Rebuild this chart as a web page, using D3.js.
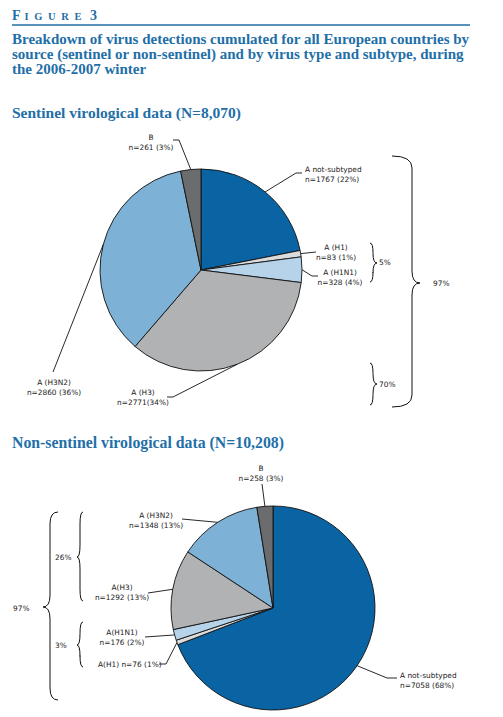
<!DOCTYPE html>
<html>
<head>
<meta charset="utf-8">
<script src="https://cdn.jsdelivr.net/npm/d3@7"></script>
<style>
  html, body { margin: 0; padding: 0; background: #fff; }
  svg { display: block; }
  .lbl { font-family: "DejaVu Sans", sans-serif; font-size: 7.4px; fill: #222; }
  .ttl { font-family: "Liberation Serif", serif; font-weight: bold; fill: #1f6fa8; }
</style>
</head>
<body>
<svg id="chart" width="503" height="717"></svg>
<script>
// ---------- DATA ----------
const titleLines = [
  "Breakdown of virus detections cumulated for all European countries by",
  "source (sentinel or non-sentinel) and by virus type and subtype, during",
  "the 2006-2007 winter"
];
const sentinelTitle = "Sentinel virological data (N=8,070)";
const nonSentinelTitle = "Non-sentinel virological data (N=10,208)";

const sentinelCategories = ["A not-subtyped", "A (H1)", "A (H1N1)", "A (H3)", "A (H3N2)", "B"];
const sentinelValues     = [1767, 83, 328, 2771, 2860, 261];
const sentinelPercents   = [22, 1, 4, 34, 36, 3];

const nonSentinelCategories = ["A not-subtyped", "A(H1)", "A(H1N1)", "A(H3)", "A (H3N2)", "B"];
const nonSentinelValues     = [7058, 76, 176, 1292, 1348, 258];
const nonSentinelPercents   = [68, 1, 2, 13, 13, 3];

const sentinelGroups    = ["5%", "70%", "97%"];
const nonSentinelGroups = ["26%", "3%", "97%"];

// ---------- STYLE ----------
const sliceColors = ["#0a64a4", "#d9dbdc", "#b6d3e9", "#b1b2b4", "#7eb1d6", "#6b6c6e"];

const svg = d3.select("#chart");

// Header
const hdr = svg.append("text").attr("class", "ttl").attr("x", 12).attr("y", 20);
hdr.append("tspan").attr("font-size", 14).text("F");
hdr.append("tspan").attr("font-size", 10.5).attr("dx", 4).attr("letter-spacing", 5.6).text("IGURE");
hdr.append("tspan").attr("font-size", 14).attr("x", 90).text("3");
svg.append("line").attr("x1", 12).attr("x2", 470).attr("y1", 25).attr("y2", 25)
  .attr("stroke", "#1f6fa8").attr("stroke-width", 1.4);

svg.append("g").selectAll("text").data(titleLines).join("text")
  .attr("class", "ttl").attr("font-size", 15)
  .attr("x", 12).attr("y", (d, i) => 44 + i * 15)
  .text(d => d);

svg.append("text").attr("class", "ttl").attr("font-size", 15.5)
  .attr("x", 12).attr("y", 118).text(sentinelTitle);
svg.append("text").attr("class", "ttl").attr("font-size", 15.8)
  .attr("x", 12).attr("y", 448).text(nonSentinelTitle);

// ---------- PIE DRAWING ----------
function drawPie(cfg) {
  const data = cfg.categories.map((c, i) => ({
    cat: c, value: cfg.values[i], pct: cfg.percents[i], color: sliceColors[i]
  }));
  const pie = d3.pie().sort(null).value(d => d.value);
  const arcs = pie(data);
  const arc = d3.arc().innerRadius(0).outerRadius(cfg.r);
  const g = svg.append("g").attr("transform", `translate(${cfg.cx},${cfg.cy})`);
  g.selectAll("path").data(arcs).join("path")
    .attr("d", arc)
    .attr("fill", d => d.data.color)
    .attr("stroke", "#111").attr("stroke-width", 0.9).attr("stroke-linejoin", "round");

  // labels + leaders
  arcs.forEach((a, i) => {
    const L = cfg.labels[i];
    const mid = (a.startAngle + a.endAngle) / 2;
    const px = cfg.cx + cfg.r * Math.sin(mid);
    const py = cfg.cy - cfg.r * Math.cos(mid);
    const pts = L.leader.concat([[px, py]]);
    svg.append("path")
      .attr("d", d3.line()(pts))
      .attr("fill", "none").attr("stroke", "#111").attr("stroke-width", 0.9);
    const lines = L.single
      ? [`${a.data.cat} n=${a.data.value} (${a.data.pct}%)`]
      : [a.data.cat, `n=${a.data.value}${L.tight ? "" : " "}(${a.data.pct}%)`];
    svg.append("g").selectAll("text").data(lines).join("text")
      .attr("class", "lbl")
      .attr("x", L.x).attr("y", (d, j) => L.y + j * 10)
      .attr("text-anchor", L.anchor)
      .text(d => d);
  });
}

function brace(x0, x1, x2, y0, y1, ym, label, lx, ly, anchor) {
  const r = Math.min(12, (y1 - y0) / 4);
  const d = `M${x0},${y0} Q${x1},${y0} ${x1},${y0 + r} L${x1},${ym - r} ` +
            `Q${x1},${ym} ${x2},${ym} Q${x1},${ym} ${x1},${ym + r} ` +
            `L${x1},${y1 - r} Q${x1},${y1} ${x0},${y1}`;
  svg.append("path").attr("d", d).attr("fill", "none").attr("stroke", "#111").attr("stroke-width", 1);
  svg.append("text").attr("class", "lbl").attr("x", lx).attr("y", ly)
    .attr("text-anchor", anchor || "start").text(label);
}

drawPie({
  categories: sentinelCategories, values: sentinelValues, percents: sentinelPercents,
  cx: 201, cy: 270, r: 101,
  labels: [
    { x: 305, y: 172, anchor: "start", leader: [[302, 173], [296, 173]] },
    { x: 336, y: 249.5, anchor: "middle", leader: [[316, 252]] },
    { x: 340, y: 274.5, anchor: "middle", leader: [[318, 276], [312, 276]] },
    { x: 143, y: 394.5, anchor: "middle", tight: true, leader: [[167, 397], [173, 397]] },
    { x: 54, y: 384.5, anchor: "middle", leader: [[53, 372]] },
    { x: 151, y: 139.5, anchor: "middle", leader: [[173, 140], [179, 140]] }
  ]
});

drawPie({
  categories: nonSentinelCategories, values: nonSentinelValues, percents: nonSentinelPercents,
  cx: 273, cy: 608, r: 102,
  labels: [
    { x: 400, y: 678, anchor: "start", leader: [[397, 678], [387, 678]] },
    { x: 98, y: 667, anchor: "start", single: true, leader: [[159, 664], [166, 664]] },
    { x: 122, y: 635, anchor: "middle", leader: [[145, 637]] },
    { x: 122, y: 589.5, anchor: "middle", leader: [[148, 593]] },
    { x: 156, y: 518, anchor: "middle", leader: [[182, 519]] },
    { x: 261, y: 471, anchor: "middle", leader: [[262, 484]] }
  ]
});

// Braces – sentinel (pointing right)
brace(370, 373, 377, 243, 282, 263, sentinelGroups[0], 379, 265);
brace(370, 373, 377, 363, 405, 384, sentinelGroups[1], 379, 387);
brace(392, 412, 420, 156, 407, 283, sentinelGroups[2], 433, 286);
// Braces – non-sentinel (pointing left)
brace(83, 80, 77, 512, 601, 557, nonSentinelGroups[0], 55, 560);
brace(83, 80, 77, 622, 667, 645, nonSentinelGroups[1], 55, 648);
brace(58, 50, 43, 512, 700, 607, nonSentinelGroups[2], 13, 611);
</script>
</body>
</html>
